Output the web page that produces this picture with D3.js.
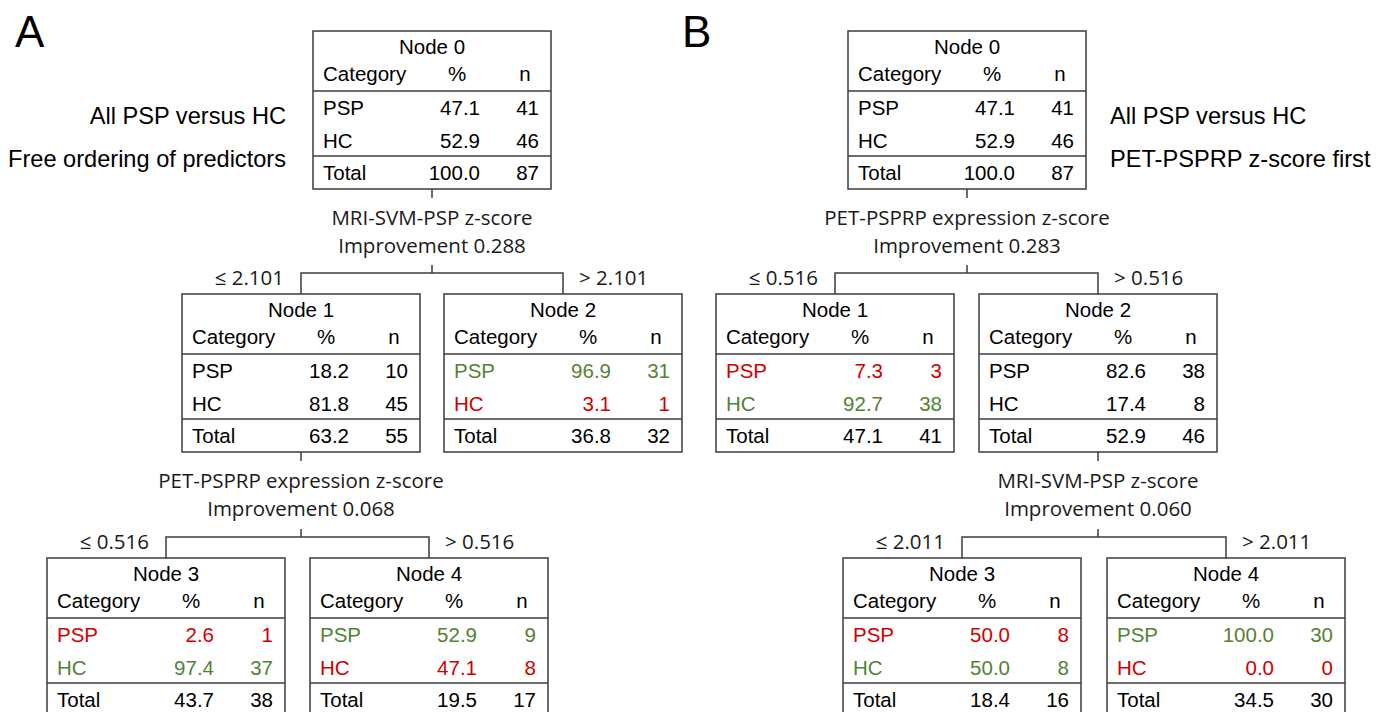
<!DOCTYPE html>
<html>
<head>
<meta charset="utf-8">
<script src="https://cdn.jsdelivr.net/npm/d3@7"></script>
<style>
  html, body { margin: 0; padding: 0; background: #fff; overflow: hidden; }
  svg { display: block; }
</style>
</head>
<body>
<svg id="chart" width="1389" height="712"></svg>
<script>
// ---------------- DATA ----------------
const categories = ["PSP", "HC"];
const headerLabels = ["Category", "%", "n"];

// Panel A
const panelALabel = "A";
const panelASubtitle = ["All PSP versus HC", "Free ordering of predictors"];
const nodeIdsA = [0, 1, 2, 3, 4];
const parentA = [null, 0, 0, 1, 1];
const pctA = [[47.1, 52.9], [18.2, 81.8], [96.9, 3.1], [2.6, 97.4], [52.9, 47.1]];
const countA = [[41, 46], [10, 45], [31, 1], [1, 37], [9, 8]];
const totalPctA = [100.0, 63.2, 36.8, 43.7, 19.5];
const totalNA = [87, 55, 32, 38, 17];
// row outcome: 0 = neutral, 1 = correct (green), -1 = error (red)
const outcomeA = [[0, 0], [0, 0], [1, -1], [-1, 1], [1, -1]];
const splitNodesA = [0, 1];
const splitVarA = ["MRI-SVM-PSP z-score", "PET-PSPRP expression z-score"];
const improvementA = ["0.288", "0.068"];
const splitLeftA = ["≤ 2.101", "≤ 0.516"];
const splitRightA = ["> 2.101", "> 0.516"];

// Panel B
const panelBLabel = "B";
const panelBSubtitle = ["All PSP versus HC", "PET-PSPRP z-score first"];
const nodeIdsB = [0, 1, 2, 3, 4];
const parentB = [null, 0, 0, 2, 2];
const pctB = [[47.1, 52.9], [7.3, 92.7], [82.6, 17.4], [50.0, 50.0], [100.0, 0.0]];
const countB = [[41, 46], [3, 38], [38, 8], [8, 8], [30, 0]];
const totalPctB = [100.0, 47.1, 52.9, 18.4, 34.5];
const totalNB = [87, 41, 46, 16, 30];
const outcomeB = [[0, 0], [-1, 1], [0, 0], [-1, 1], [1, -1]];
const splitNodesB = [0, 2];
const splitVarB = ["PET-PSPRP expression z-score", "MRI-SVM-PSP z-score"];
const improvementB = ["0.283", "0.060"];
const splitLeftB = ["≤ 0.516", "≤ 2.011"];
const splitRightB = ["> 0.516", "> 2.011"];

// ---------------- LAYOUT ----------------
const BOX_W = 238, BOX_H = 158;
const layout = {
  A: { boxX: [313, 182, 444, 47, 310], boxY: [31, 294, 294, 558, 558],
       labelX: 15, labelY: 47, subX: 286, subAnchor: "end", subY: [124, 167] },
  B: { boxX: [848, 716, 979, 843, 1107], boxY: [31, 294, 294, 558, 558],
       labelX: 682, labelY: 47, subX: 1110, subAnchor: "start", subY: [124, 167] }
};
const COLORS = { "0": "#000000", "1": "#548235", "-1": "#d00000" };
const LINE = "#3c3c3c";
const TABLE_FONT = "'Liberation Sans', Arial, Helvetica, sans-serif";
const SPLIT_FONT = "'Open Sans', 'DejaVu Sans', sans-serif";

const fmt1 = d3.format(".1f");

const svg = d3.select("#chart");

function drawPanel(key, label, subtitle, ids, parents, pct, counts, tPct, tN, outcome,
                   splitNodes, splitVar, improvement, splitLeft, splitRight) {
  const L = layout[key];
  const g = svg.append("g").attr("class", "panel-" + key);

  // build hierarchy
  const table = ids.map((id, i) => ({
    id: String(id), parentId: parents[i] === null ? null : String(parents[i]),
    idx: i, pct: pct[i], counts: counts[i], tPct: tPct[i], tN: tN[i], outcome: outcome[i]
  }));
  const root = d3.stratify().id(d => d.id).parentId(d => d.parentId)(table);
  root.each(n => {
    n.x0 = L.boxX[n.data.idx];
    n.y0 = L.boxY[n.data.idx];
    n.cx = n.x0 + BOX_W / 2;
  });

  // panel label
  g.append("text").attr("x", L.labelX).attr("y", L.labelY)
    .attr("font-family", TABLE_FONT).attr("font-size", 44).attr("fill", "#000")
    .text(label);

  // subtitles
  subtitle.forEach((s, i) => {
    g.append("text").attr("x", L.subX).attr("y", L.subY[i])
      .attr("text-anchor", L.subAnchor)
      .attr("font-family", TABLE_FONT).attr("font-size", 23.6).attr("fill", "#000")
      .text(s);
  });

  // split connectors
  splitNodes.forEach((sid, k) => {
    const p = root.find(n => n.data.idx === sid);
    const kids = p.children;
    const bottom = p.y0 + BOX_H;
    const childTop = kids[0].y0;
    const hy = childTop - 21;
    const cx = p.cx;
    const lg = g.append("g").attr("stroke", LINE).attr("stroke-width", 1.5).attr("fill", "none");
    lg.append("line").attr("x1", cx).attr("x2", cx).attr("y1", bottom).attr("y2", bottom + 9);
    lg.append("line").attr("x1", cx).attr("x2", cx).attr("y1", hy - 8).attr("y2", hy);
    lg.append("path").attr("d",
      `M${kids[0].cx},${childTop} V${hy} H${kids[1].cx} V${childTop}`);

    const tg = g.append("g").attr("font-family", SPLIT_FONT).attr("font-size", 20.5)
      .attr("fill", "#1a1a1a");
    tg.append("text").attr("x", cx).attr("y", bottom + 36).attr("text-anchor", "middle")
      .text(splitVar[k]);
    tg.append("text").attr("x", cx).attr("y", bottom + 64).attr("text-anchor", "middle")
      .text("Improvement " + improvement[k]);
    tg.append("text").attr("x", kids[0].cx - 17).attr("y", hy + 12).attr("text-anchor", "end")
      .text(splitLeft[k]);
    tg.append("text").attr("x", kids[1].cx + 16).attr("y", hy + 12).attr("text-anchor", "start")
      .text(splitRight[k]);
  });

  // node boxes
  const nodes = g.selectAll("g.node").data(root.descendants()).join("g")
    .attr("class", "node")
    .attr("transform", d => `translate(${d.x0},${d.y0})`)
    .attr("font-family", TABLE_FONT).attr("font-size", 20.5);

  nodes.append("rect").attr("width", BOX_W).attr("height", BOX_H)
    .attr("fill", "#fff").attr("stroke", LINE).attr("stroke-width", 1.5);
  nodes.append("line").attr("x1", 0).attr("x2", BOX_W).attr("y1", 60).attr("y2", 60)
    .attr("stroke", LINE).attr("stroke-width", 1.5);
  nodes.append("line").attr("x1", 0).attr("x2", BOX_W).attr("y1", 125).attr("y2", 125)
    .attr("stroke", LINE).attr("stroke-width", 1.5);

  nodes.append("text").attr("x", BOX_W / 2).attr("y", 23).attr("text-anchor", "middle")
    .text(d => "Node " + d.data.id);
  nodes.append("text").attr("x", 10).attr("y", 50).text(headerLabels[0]);
  nodes.append("text").attr("x", 144).attr("y", 50).attr("text-anchor", "middle").text(headerLabels[1]);
  nodes.append("text").attr("x", 212).attr("y", 50).attr("text-anchor", "middle").text(headerLabels[2]);

  const rowY = [84, 117];
  categories.forEach((c, ci) => {
    const col = d => COLORS[String(d.data.outcome[ci])];
    nodes.append("text").attr("x", 10).attr("y", rowY[ci]).attr("fill", col).text(c);
    nodes.append("text").attr("x", 167).attr("y", rowY[ci]).attr("text-anchor", "end")
      .attr("fill", col).text(d => fmt1(d.data.pct[ci]));
    nodes.append("text").attr("x", 226).attr("y", rowY[ci]).attr("text-anchor", "end")
      .attr("fill", col).text(d => d.data.counts[ci]);
  });
  nodes.append("text").attr("x", 10).attr("y", 149).text("Total");
  nodes.append("text").attr("x", 167).attr("y", 149).attr("text-anchor", "end")
    .text(d => fmt1(d.data.tPct));
  nodes.append("text").attr("x", 226).attr("y", 149).attr("text-anchor", "end")
    .text(d => d.data.tN);
}

drawPanel("A", panelALabel, panelASubtitle, nodeIdsA, parentA, pctA, countA, totalPctA, totalNA,
  outcomeA, splitNodesA, splitVarA, improvementA, splitLeftA, splitRightA);
drawPanel("B", panelBLabel, panelBSubtitle, nodeIdsB, parentB, pctB, countB, totalPctB, totalNB,
  outcomeB, splitNodesB, splitVarB, improvementB, splitLeftB, splitRightB);
</script>
</body>
</html>
